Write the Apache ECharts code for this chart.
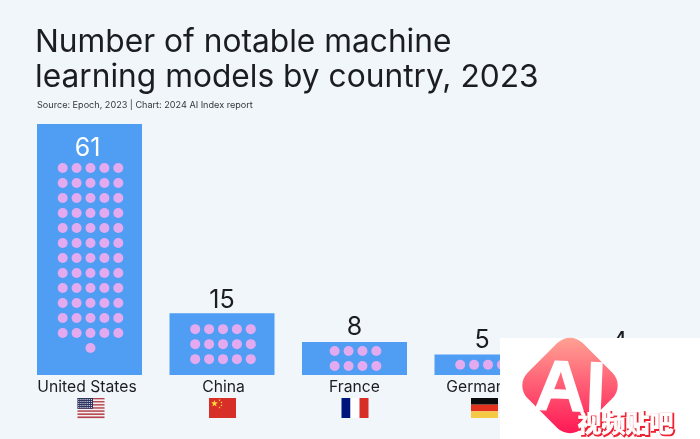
<!DOCTYPE html>
<html>
<head>
<meta charset="utf-8">
<style>
  html, body { margin: 0; padding: 0; background: #f1f6fb; }
  #main { width: 700px; height: 439px; }
</style>
<script src="https://cdn.jsdelivr.net/npm/echarts@6/dist/echarts.min.js"></script>
</head>
<body>
<div id="main"></div>
<script>
var countries = ['United States', 'China', 'France', 'Germany', 'Canada']
var models = [61, 15, 8, 5, 4]
var titleText = 'Number of notable machine\nlearning models by country, 2023'
var sourceText = 'Source: Epoch, 2023 | Chart: 2024 AI Index report'

var FONT = 'Inter'
var INK = '#1b1d22'
var BAR = '#4f9ef3'
var DOT = '#e3aaf0'
var RED = '#d72f27'

function rect(x, y, w, h, fill) {
  return { type: 'rect', shape: { x: x, y: y, width: w, height: h }, style: { fill: fill } }
}

function star(cx, cy, r) {
  var pts = []
  for (var k = 0; k < 10; k++) {
    var a = -Math.PI / 2 + k * Math.PI / 5
    var d = k % 2 ? r * 0.42 : r
    pts.push([cx + d * Math.cos(a), cy + d * Math.sin(a)])
  }
  return { type: 'polygon', shape: { points: pts }, style: { fill: '#f7d83c' } }
}

// one dot per model, 5 to a row (4 when it divides evenly by 4 and not 5)
function renderDots(params, api) {
  var v = api.value(1)
  var mid = api.coord([api.value(0), v / 2])
  var cols = v % 4 === 0 ? 4 : 5
  var rows = Math.ceil(v / cols)
  // the tall bar holds its label inside, so the dots sit lower
  var shift = v > 30 ? 8.5 : 0
  var kids = []
  for (var n = 0; n < v; n++) {
    var row = Math.floor(n / cols)
    var inRow = Math.min(cols, v - row * cols)
    kids.push({
      type: 'circle',
      shape: {
        cx: mid[0] + 1 + (n % cols - (inRow - 1) / 2) * 13.9,
        cy: mid[1] + shift + (row - (rows - 1) / 2) * 15,
        r: 5
      },
      style: { fill: DOT }
    })
  }
  return { type: 'group', children: kids }
}

function renderFlag(params, api) {
  var i = api.value(0)
  var p = api.coord([i, 0])
  // the flags are not quite centred under their bars in the original
  var x = p[0] - 13 + [1, 0, 0, -3, 0][i], y = p[1] + 23, w = 27, h = 20
  var kids = []
  if (i === 0) {
    for (var s = 0; s < 13; s++) {
      kids.push(rect(x, y + s * h / 13, w, h / 13 + 0.1, s % 2 ? '#f4f0f0' : '#b5414b'))
    }
    kids.push(rect(x, y, 15.5, 10.8, '#2d3560'))
    for (var r = 0; r < 5; r++) {
      for (var c = 0; c < 7; c++) {
        kids.push(rect(x + 0.8 + c * 2.1, y + 0.9 + r * 2.05, 1, 1, '#e4e6ee'))
      }
    }
  } else if (i === 1) {
    kids.push(rect(x, y, w, h, RED))
    kids.push(star(x + 5.5, y + 5.5, 3.6))
    kids.push(star(x + 10.5, y + 2.2, 1.2))
    kids.push(star(x + 12.5, y + 4.4, 1.2))
    kids.push(star(x + 12.5, y + 7.4, 1.2))
    kids.push(star(x + 10.5, y + 9.6, 1.2))
  } else if (i === 2) {
    kids.push(rect(x, y, 9, h, '#00157c'))
    kids.push(rect(x + 9, y, 9, h, '#ffffff'))
    kids.push(rect(x + 18, y, 9, h, RED))
  } else if (i === 3) {
    kids.push(rect(x, y, w, h / 3, '#0b0b0b'))
    kids.push(rect(x, y + h / 3, w, h / 3, '#e2311d'))
    kids.push(rect(x, y + 2 * h / 3, w, h / 3, '#f6c944'))
  }
  return { type: 'group', children: kids }
}

var labelNudge = [[-2, 0], [0, 4], [0, 1.5], [-5, 2.5], [0, 0]]
var namePadding = [[0, 5, 0, 0], [0, 0, 0, 3], 0, [0, 14, 0, 0], 0]

var myChart = echarts.init(document.getElementById('main'))
var option = {
  backgroundColor: '#f1f6fb',
  animation: false,
  title: [
    {
      text: titleText,
      left: 35,
      top: 25,
      padding: 0,
      textStyle: { fontFamily: FONT, fontSize: 31.7, fontWeight: 400, lineHeight: 35, color: INK }
    },
    {
      text: sourceText,
      left: 37,
      top: 101,
      padding: 0,
      textStyle: { fontFamily: FONT, fontSize: 9.1, fontWeight: 400, color: '#33363c' }
    }
  ],
  grid: { left: 23.25, top: 124, width: 662.5, height: 251 },
  xAxis: {
    type: 'category',
    data: countries.map(function (name, i) {
      return { value: name, textStyle: { padding: namePadding[i] } }
    }),
    axisLine: { show: false },
    axisTick: { show: false },
    axisLabel: { fontFamily: FONT, fontSize: 15.7, color: INK, margin: 4, interval: 0 }
  },
  yAxis: { type: 'value', min: 0, max: 61, show: false },
  series: [
    {
      type: 'bar',
      data: models.map(function (v, i) {
        return {
          value: v,
          label: v > 30
            ? { position: 'insideTop', distance: 12, color: '#ffffff', offset: labelNudge[i] }
            : { position: 'top', distance: 4, color: INK, offset: labelNudge[i] }
        }
      }),
      barWidth: 105,
      itemStyle: { color: BAR },
      label: { show: true, fontFamily: FONT, fontSize: 25, fontWeight: 400 },
      silent: true
    },
    {
      type: 'custom',
      renderItem: renderDots,
      data: models.map(function (v, i) { return [i, v] }),
      encode: { x: 0, y: 1 },
      z: 5,
      silent: true
    },
    {
      type: 'custom',
      renderItem: renderFlag,
      data: models.map(function (v, i) { return [i, v] }),
      encode: { x: 0, y: 1 },
      clip: false,
      z: 5,
      silent: true
    }
  ],
  graphic: {
    elements: [
      { type: 'rect', z: 100, shape: { x: 500, y: 338, width: 200, height: 101 }, style: { fill: '#ffffff' } },
      {
        type: 'rect',
        z: 101,
        x: 570,
        y: 385.5,
        rotation: -Math.PI / 4,
        shape: { x: -39, y: -39, width: 78, height: 78, r: 18 },
        style: {
          fill: new echarts.graphic.LinearGradient(0, 0, 1, 1, [
            { offset: 0, color: '#ffac98' },
            { offset: 1, color: '#ff0d50' }
          ])
        }
      },
      {
        type: 'text',
        z: 102,
        x: 570,
        y: 391,
        rotation: -0.04,
        style: {
          text: 'AI',
          fontFamily: 'Liberation Sans',
          fontSize: 71,
          fontWeight: 'bold',
          fill: '#ffffff',
          stroke: '#ffffff',
          lineWidth: 1.5,
          align: 'center',
          verticalAlign: 'middle'
        }
      },
      {
        type: 'text',
        z: 103,
        x: 626.5,
        y: 424,
        style: {
          text: '视频贴吧',
          fontFamily: 'Noto Sans CJK SC',
          fontSize: 24,
          fontWeight: 'bold',
          fill: '#ee2233',
          stroke: '#ee2233',
          lineWidth: 2.5,
          align: 'center',
          verticalAlign: 'middle'
        }
      },
      {
        type: 'text',
        z: 104,
        x: 625.5,
        y: 423,
        style: {
          text: '视频贴吧',
          fontFamily: 'Noto Sans CJK SC',
          fontSize: 24,
          fontWeight: 'bold',
          fill: '#ffffff',
          stroke: '#ffffff',
          lineWidth: 0.8,
          align: 'center',
          verticalAlign: 'middle'
        }
      }
    ]
  }
}

myChart.setOption(option)
</script>
</body>
</html>
